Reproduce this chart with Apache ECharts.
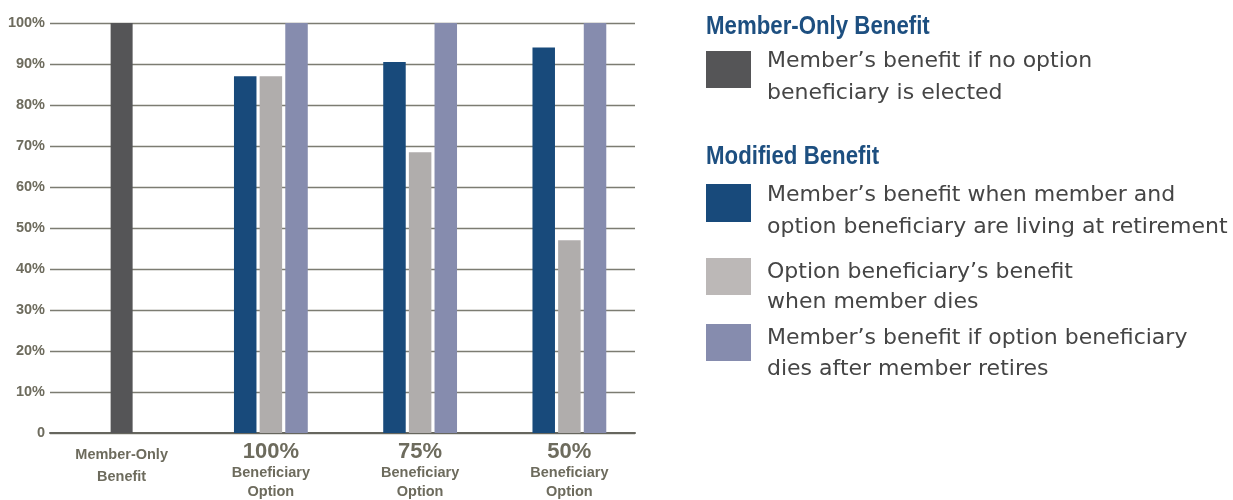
<!DOCTYPE html>
<html><head><meta charset="utf-8">
<script src="https://cdn.jsdelivr.net/npm/echarts@6/dist/echarts.min.js"></script>
<style>html,body{margin:0;padding:0;background:#fff}#c{width:1233px;height:500px}</style>
</head><body><div id="c"></div>
<script>
const categories = ['Member-Only Benefit', '100%', '75%', '50%'];
const memberOnly = [100, '-', '-', '-'];
const memberLiving = ['-', 87, 90.5, 94];
const beneficiaryAfterDeath = ['-', 87, 68.5, 47];
const beneficiaryDies = ['-', 100, 100, 100];
const yTicks = [0, 10, 20, 30, 40, 50, 60, 70, 80, 90, 100];

const C_DARK = '#555557', C_BLUE = '#184a7b', C_GRAY = '#b0adac', C_PURPLE = '#868cae';
const TICK = '#6d6b5d';
const BOLD_FONT = '"Liberation Sans", Arial, sans-serif';
const BODY_FONT = '"DejaVu Sans", sans-serif';

const chart = echarts.init(document.getElementById('c'), null, {renderer: 'canvas'});

const catLabel = (v) => v === categories[0]
  ? '{m1|Member-Only}\n{m2|Benefit}'
  : '{big|' + v + '}\n{s|Beneficiary}\n{s|Option}';

chart.setOption({
  animation: false,
  grid: [
    {left: 47, top: 23, width: 597, bottom: 67},
    {left: 50, top: 23, width: 585, bottom: 67}
  ],
  xAxis: [
    {gridIndex: 0, type: 'category', data: categories, axisLine: {show: false}, axisTick: {show: false},
     axisLabel: {margin: 8, formatter: catLabel, fontFamily: BOLD_FONT, fontWeight: 'bold', color: TICK,
       rich: {
         m1: {fontSize: 14.5, fontWeight: 'bold', color: TICK, lineHeight: 27, fontFamily: BOLD_FONT},
         m2: {fontSize: 14.5, fontWeight: 'bold', color: TICK, lineHeight: 17, fontFamily: BOLD_FONT},
         big: {fontSize: 22, fontWeight: 'bold', color: TICK, lineHeight: 22, fontFamily: BOLD_FONT},
         s: {fontSize: 14.5, fontWeight: 'bold', color: TICK, lineHeight: 19.5, fontFamily: BOLD_FONT}
       }}},
    {gridIndex: 0, type: 'category', data: categories, show: false},
    {gridIndex: 1, type: 'category', data: categories, axisLabel: {show: false}, axisTick: {show: false},
     axisLine: {show: true, lineStyle: {color: '#66665e', width: 2}}}
  ],
  yAxis: [
    {gridIndex: 0, type: 'value', min: 0, max: 100, interval: 10, show: false, splitLine: {show: false}},
    {gridIndex: 1, type: 'value', min: 0, max: 100, interval: 10,
     axisLine: {show: false}, axisTick: {show: false},
     splitLine: {show: true, lineStyle: {color: '#7c7c72', width: 1.3}},
     axisLabel: {margin: 5, color: TICK, fontWeight: 'bold', fontSize: 14.5, fontFamily: BOLD_FONT,
       formatter: (v) => yTicks.includes(v) ? (v === 0 ? '0' : v + '%') : ''}}
  ],
  series: [
    {type: 'bar', xAxisIndex: 2, yAxisIndex: 1, data: [], silent: true},
    {type: 'bar', name: 'memberOnly', xAxisIndex: 1, yAxisIndex: 0, data: memberOnly, barWidth: 22, itemStyle: {color: C_DARK}, z: 3},
    {type: 'bar', name: 'memberLiving', xAxisIndex: 0, yAxisIndex: 0, data: memberLiving, barWidth: 22.5, barGap: '14%', itemStyle: {color: C_BLUE}, z: 3},
    {type: 'bar', name: 'beneficiary', xAxisIndex: 0, yAxisIndex: 0, data: beneficiaryAfterDeath, barWidth: 22.5, barGap: '14%', itemStyle: {color: C_GRAY}, z: 3},
    {type: 'bar', name: 'benDies', xAxisIndex: 0, yAxisIndex: 0, data: beneficiaryDies, barWidth: 22.5, barGap: '14%', itemStyle: {color: C_PURPLE}, z: 3}
  ],
  graphic: [
    {type: 'text', x: 706, y: 27, scaleX: 0.89, style: {text: 'Member-Only Benefit', font: 'bold 25px ' + BOLD_FONT, fill: '#1d4f80', verticalAlign: 'middle'}},
    {type: 'rect', shape: {x: 706, y: 51, width: 45, height: 37}, style: {fill: C_DARK}},
    {type: 'text', x: 767, y: 46, style: {text: 'Member\u2019s benefit if no option\nbeneficiary is elected', font: '22px ' + BODY_FONT, fill: '#454545', lineHeight: 31.5, verticalAlign: 'top'}},
    {type: 'text', x: 706, y: 157, scaleX: 0.89, style: {text: 'Modified Benefit', font: 'bold 25px ' + BOLD_FONT, fill: '#1d4f80', verticalAlign: 'middle'}},
    {type: 'rect', shape: {x: 706, y: 184, width: 45, height: 38}, style: {fill: C_BLUE}},
    {type: 'text', x: 767, y: 179, style: {text: 'Member\u2019s benefit when member and\noption beneficiary are living at retirement', font: '22px ' + BODY_FONT, fill: '#454545', lineHeight: 32, verticalAlign: 'top'}},
    {type: 'rect', shape: {x: 706, y: 258, width: 45, height: 37}, style: {fill: '#bcb8b7'}},
    {type: 'text', x: 767, y: 257, style: {text: 'Option beneficiary\u2019s benefit\nwhen member dies', font: '22px ' + BODY_FONT, fill: '#454545', lineHeight: 30, verticalAlign: 'top'}},
    {type: 'rect', shape: {x: 706, y: 324, width: 45, height: 37}, style: {fill: C_PURPLE}},
    {type: 'text', x: 767, y: 323, style: {text: 'Member\u2019s benefit if option beneficiary\ndies after member retires', font: '22px ' + BODY_FONT, fill: '#454545', lineHeight: 31, verticalAlign: 'top'}}
  ]
});
</script></body></html>
